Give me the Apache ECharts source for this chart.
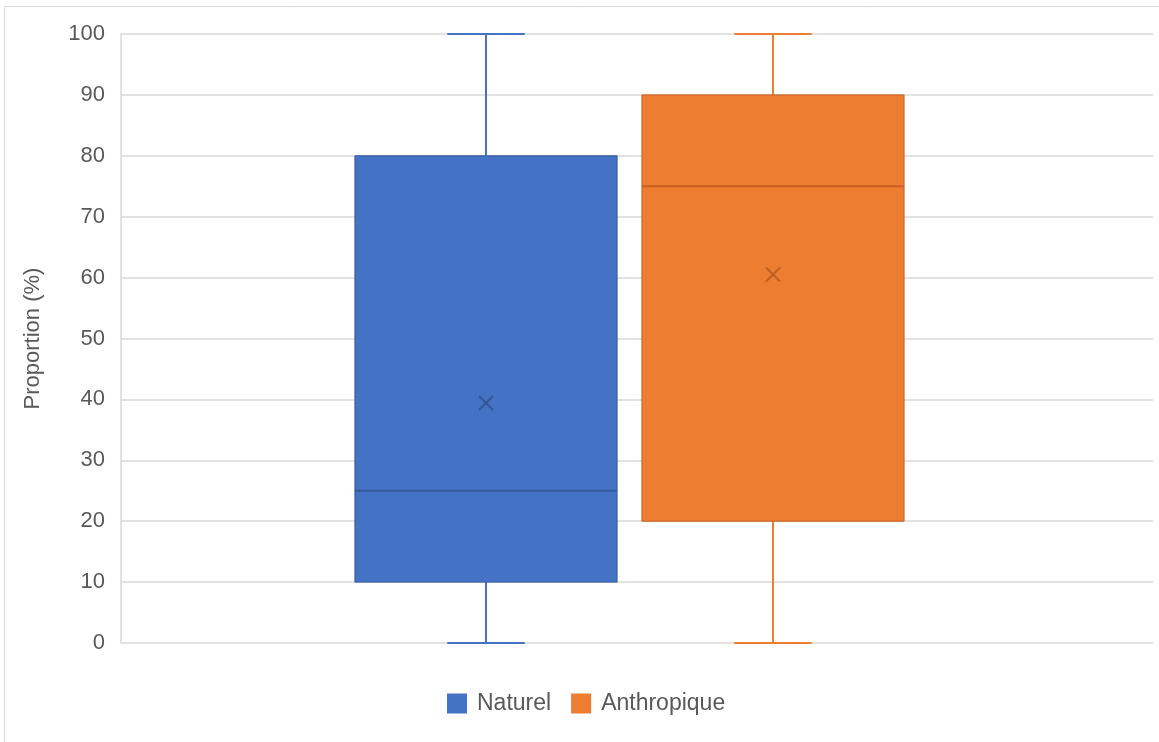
<!DOCTYPE html>
<html>
<head>
<meta charset="utf-8">
<title>Proportion (%)</title>
<script src="https://cdn.jsdelivr.net/npm/echarts@6/dist/echarts.min.js"></script>
<style>
  html, body { margin: 0; padding: 0; background: #fff; }
  #chart { width: 1159px; height: 742px; }
</style>
</head>
<body>
<div id="chart"></div>
<script>
// Five-number summaries and means for each group
const categories   = ['Naturel', 'Anthropique'];
const minValues    = [0, 0];
const q1Values     = [10, 20];
const medianValues = [25, 75];
const q3Values     = [80, 90];
const maxValues    = [100, 100];
const meanValues   = [39.4, 60.5];

const fillColors   = ['#4472C4', '#ED7D31'];
const darkColors   = ['#33599F', '#C8601F'];
const markColors   = ['#2F528F', '#B55A22'];

// Horizontal placement of each box inside the single category band
const BOX_RATIO = 0.254;
const CAP_RATIO = 0.075;
const OFFSETS = [-0.1465, 0.1315];

const FONT = '"Liberation Sans", Arial, Helvetica, sans-serif';
const TEXT = '#595959';

function makeRenderer(idx) {
  return function (params, api) {
    const center = api.coord([0, 0])[0];
    const band = api.size([1, 0])[0];
    const x = Math.round(center + band * OFFSETS[idx]);
    const half = band * BOX_RATIO / 2;
    const capHalf = band * CAP_RATIO / 2;
    const yMin = api.coord([0, api.value(1)])[1];
    const yQ1 = api.coord([0, api.value(2)])[1];
    const yMed = api.coord([0, api.value(3)])[1];
    const yQ3 = api.coord([0, api.value(4)])[1];
    const yMax = api.coord([0, api.value(5)])[1];
    const yMean = api.coord([0, api.value(6)])[1];
    const whisker = { stroke: fillColors[idx], lineWidth: 2 };
    const m = 7;
    return {
      type: 'group',
      children: [
        { type: 'line', shape: { x1: x, y1: yQ3, x2: x, y2: yMax }, style: whisker },
        { type: 'line', shape: { x1: x - capHalf, y1: yMax, x2: x + capHalf, y2: yMax }, style: whisker },
        { type: 'line', shape: { x1: x, y1: yQ1, x2: x, y2: yMin }, style: whisker },
        { type: 'line', shape: { x1: x - capHalf, y1: yMin, x2: x + capHalf, y2: yMin }, style: whisker },
        {
          type: 'rect',
          shape: { x: x - half, y: yQ3, width: half * 2, height: yQ1 - yQ3 },
          style: { fill: fillColors[idx], stroke: darkColors[idx], lineWidth: 1 }
        },
        {
          type: 'line',
          shape: { x1: x - half, y1: yMed, x2: x + half, y2: yMed },
          style: { stroke: darkColors[idx], lineWidth: 2 }
        },
        {
          type: 'line',
          shape: { x1: x - m, y1: yMean - m, x2: x + m, y2: yMean + m },
          style: { stroke: markColors[idx], lineWidth: 2, opacity: 0.85 }
        },
        {
          type: 'line',
          shape: { x1: x - m, y1: yMean + m, x2: x + m, y2: yMean - m },
          style: { stroke: markColors[idx], lineWidth: 2, opacity: 0.85 }
        }
      ]
    };
  };
}

const series = categories.map(function (name, i) {
  return {
    name: name,
    type: 'custom',
    renderItem: makeRenderer(i),
    itemStyle: { color: fillColors[i] },
    encode: { x: 0, y: [1, 2, 3, 4, 5, 6] },
    data: [[0, minValues[i], q1Values[i], medianValues[i], q3Values[i], maxValues[i], meanValues[i]]],
    silent: true
  };
});

const chart = echarts.init(document.getElementById('chart'), null, { renderer: 'canvas' });
chart.setOption({
  animation: false,
  color: fillColors,
  graphic: [{
    type: 'rect',
    shape: { x: 4.5, y: 6.5, width: 1180, height: 760 },
    style: { fill: 'none', stroke: '#D9D9D9', lineWidth: 1 },
    silent: true
  }],
  grid: { left: 121, right: 6, top: 34, bottom: 99, containLabel: false },
  legend: {
    data: categories,
    left: 442,
    top: 687,
    icon: 'rect',
    itemWidth: 20,
    itemHeight: 20,
    itemGap: 20,
    textStyle: { fontFamily: FONT, fontSize: 23, color: TEXT, padding: [0, 0, 0, 5] }
  },
  xAxis: {
    type: 'category',
    data: [''],
    axisLine: { show: false },
    axisTick: { show: false },
    axisLabel: { show: false },
    splitLine: { show: false }
  },
  yAxis: {
    type: 'value',
    min: 0,
    max: 100,
    interval: 10,
    name: 'Proportion (%)',
    nameLocation: 'middle',
    nameGap: 77,
    nameTextStyle: { fontFamily: FONT, fontSize: 22, color: TEXT },
    axisLine: { show: true, lineStyle: { color: '#D9D9D9', width: 1.5 } },
    axisTick: { show: false },
    axisLabel: { fontFamily: FONT, fontSize: 22, color: TEXT, margin: 16 },
    splitLine: { lineStyle: { color: '#D9D9D9', width: 1.5 } }
  },
  series: series
});
</script>
</body>
</html>
